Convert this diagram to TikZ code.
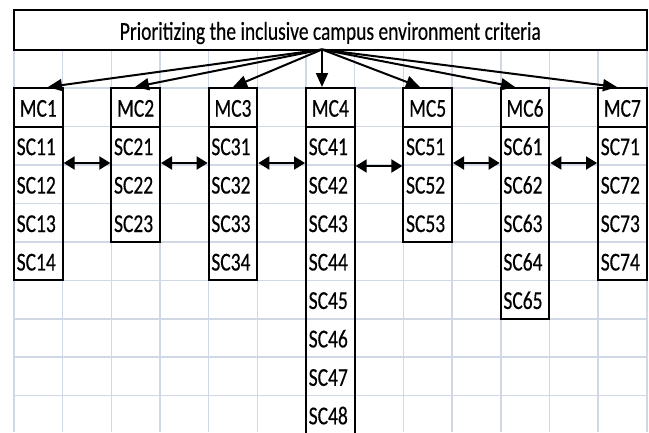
\documentclass[tikz,border=0pt]{standalone}
\usepackage{fontspec}
\setmainfont{Carlito}
\newfontfamily\labfont{Carlito}[FakeBold=0.5]
\usepackage{graphicx}
\usetikzlibrary{arrows.meta}
\newcommand{\stt}[1]{\scalebox{1}[1.32]{#1}}
\definecolor{gridc}{RGB}{208,215,229}
\begin{document}
\begin{tikzpicture}[x=1pt,y=-1pt,
  gridline/.style={draw=gridc,line width=1.6pt},
  box/.style={draw=black,line width=2pt,rectangle,inner sep=0pt,minimum width=48.67pt},
  lab/.style={inner sep=0pt,font=\labfont\fontsize{19.5}{21}\selectfont},
  arr/.style={line width=2pt,-{Triangle[length=14pt,width=12pt]}},
  dbl/.style={line width=2pt,{Triangle[length=11pt,width=13pt]}-{Triangle[length=11pt,width=13pt]}}]
\useasboundingbox[fill=white] (0,0) rectangle (649,432);
% grid
\foreach \c in {0,...,13} {
  \draw[gridline] ({14+48.67*\c},49.5) -- ({14+48.67*\c},432);
}
\foreach \r in {1,...,9} {
  \draw[gridline] (14,{49.6+38.45*\r}) -- (646.7,{49.6+38.45*\r});
}
% title
\node[box,lab,minimum width=632.7pt,minimum height=39.5pt,text height=20pt,text depth=0pt] (title) at (330.35,29.75) {\stt{Prioritizing the inclusive campus environment criteria}};
% columns
\foreach \i/\n in {1/4,2/3,3/4,4/8,5/3,6/5,7/4} {
  \pgfmathsetmacro\xc{14+48.67*(2*\i-2+0.5)}
  \pgfmathsetmacro\xl{14+48.67*(2*\i-2)+2.5}
  \pgfmathsetmacro\hh{\n*38.45}
  \pgfmathsetmacro\yc{126.5+\n*38.45/2}
  \node[box,lab,minimum height=38.45pt,text height=18.8pt,text depth=0pt] (mc\i) at (\xc,107.3) {\stt{MC\i}};
  \node[box,minimum height=\hh pt] (sc\i) at (\xc,\yc) {};
  \foreach \j in {1,...,\n} {
    \node[lab,anchor=base west] (lab\i\j) at (\xl,{126.5+38.45*(\j-0.5)+9.4}) {\stt{SC\i\j}};
  }
}
% arrows from title
\coordinate (src) at (322,49.5);
\foreach \i/\tx in {1/48,2/135,3/233,4/322,5/420,6/515,7/617} {
  \coordinate (tip\i) at (\tx,87);
  \draw[arr] (src) -- (tip\i);
}
% double arrows
\coordinate (ya) at (0,163);
\coordinate (yb) at (0,166);
\draw[dbl] (sc1.east |- ya) -- (sc2.west |- ya);
\draw[dbl] (sc2.east |- ya) -- (sc3.west |- ya);
\draw[dbl] (sc3.east |- ya) -- (sc4.west |- ya);
\draw[dbl] (sc4.east |- yb) -- (sc5.west |- yb);
\draw[dbl] (sc5.east |- ya) -- (sc6.west |- ya);
\draw[dbl] (sc6.east |- ya) -- (sc7.west |- ya);
\end{tikzpicture}
\end{document}
